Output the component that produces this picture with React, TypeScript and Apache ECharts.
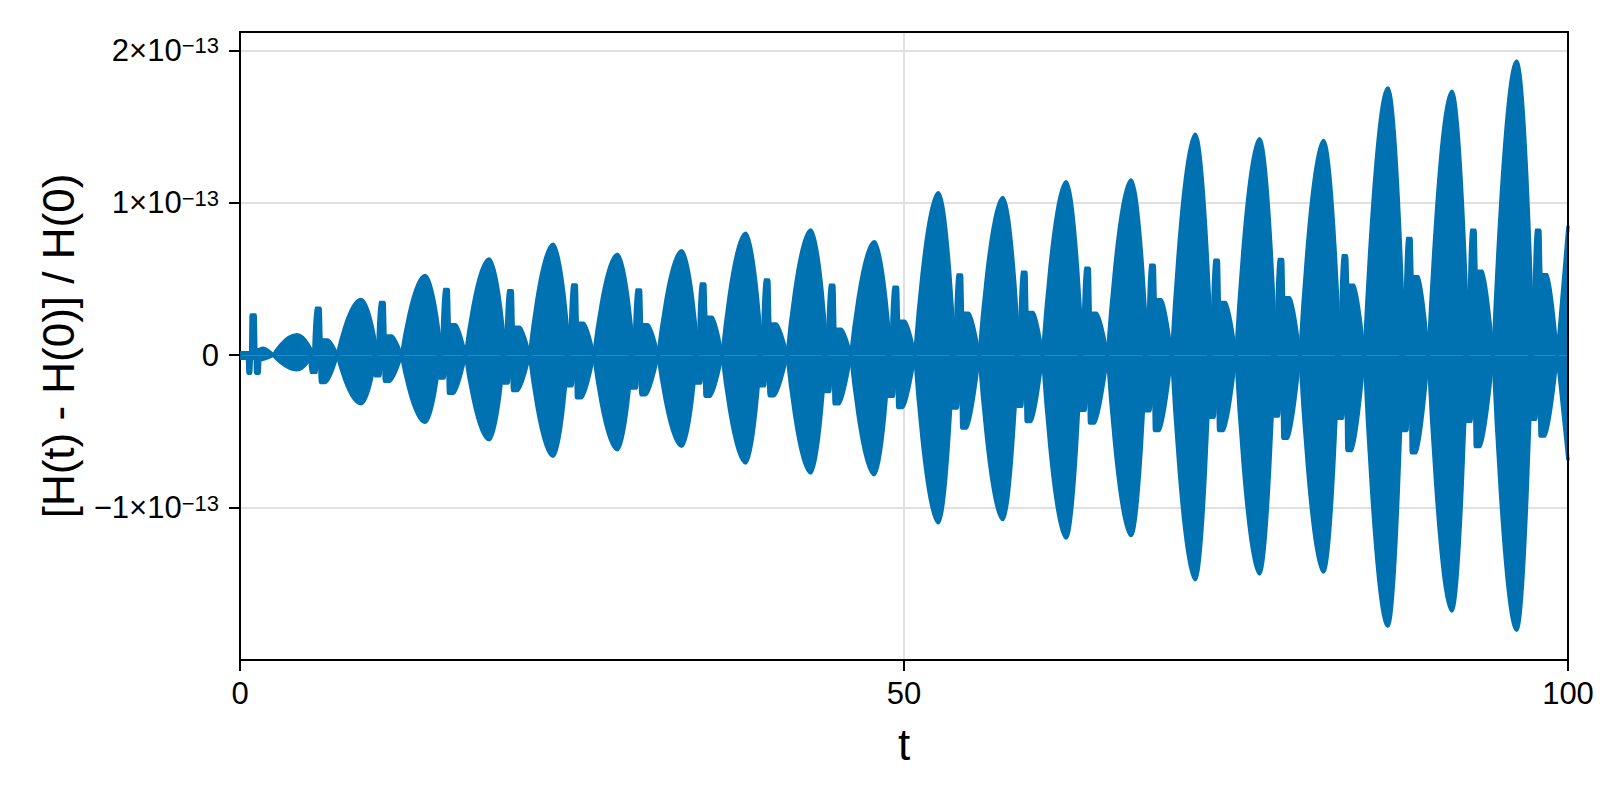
import React, { useEffect, useRef } from 'react';
import * as echarts from 'echarts';

const BLUE = '#0072b2';
const FONT = "'Liberation Sans', Arial, sans-serif";

// values are in units of 10^Y_EXP
const Y_EXP = -13;

// crest time of every big lobe and its top / bottom
const lobePeakT = [4.29, 9.11, 13.94, 18.76, 23.58, 28.42, 33.26, 38.08, 42.98, 47.77, 52.59, 57.44, 62.21, 67.1, 71.93, 76.77, 81.59, 86.44, 91.26, 96.14];
const lobeTop = [0.133, 0.365, 0.522, 0.631, 0.727, 0.662, 0.685, 0.799, 0.821, 0.744, 1.065, 1.035, 1.137, 1.149, 1.45, 1.42, 1.408, 1.752, 1.731, 1.93];
const lobeBottom = [-0.096, -0.319, -0.44, -0.555, -0.664, -0.62, -0.598, -0.707, -0.773, -0.784, -1.1, -1.079, -1.199, -1.184, -1.473, -1.435, -1.423, -1.779, -1.679, -1.805];

// the spike group that follows each lobe
const spikeUp = [0.308, 0.345, 0.43, 0.423, 0.46, 0.428, 0.467, 0.493, 0.458, 0.445, 0.526, 0.544, 0.57, 0.59, 0.622, 0.627, 0.652, 0.765, 0.82, 0.82];
const spikeDown1 = [-0.113, -0.135, -0.15, -0.183, -0.2, -0.215, -0.183, -0.2, -0.238, -0.27, -0.347, -0.336, -0.362, -0.364, -0.407, -0.4, -0.414, -0.494, -0.434, -0.42];
const spikeNotch = [-0.02, -0.03, -0.05, -0.07, -0.08, -0.09, -0.08, -0.09, -0.1, -0.12, -0.2, -0.18, -0.2, -0.22, -0.24, -0.24, -0.26, -0.3, -0.3, -0.3];
const spikeDown2 = [-0.179, -0.172, -0.25, -0.232, -0.28, -0.26, -0.27, -0.266, -0.319, -0.343, -0.478, -0.435, -0.445, -0.494, -0.494, -0.545, -0.625, -0.64, -0.6, -0.53];
const humpTop = [0.1, 0.126, 0.2, 0.183, 0.21, 0.2, 0.249, 0.205, 0.17, 0.222, 0.275, 0.279, 0.275, 0.364, 0.346, 0.376, 0.459, 0.514, 0.55, 0.527];

// durations (in t), counted from a lobe's crest
const LOBE_RISE = 1.78;
const LOBE_FALL_TOP = 1.25;
const LOBE_FALL_BOTTOM = 1.13;
const upSpikeT = [1.26, 1.4, 1.74, 1.82, 2.3]; // rise, top start, top end, hump start, hump end
const downSpikeT = [0.98, 1.04, 1.44, 1.5, 1.7, 1.76, 2.14]; // d1 start ... d2 end

// before the first lobe, and the lobe cut by the right edge
const startUpper: [number, number][] = [[0, 0.015], [0.8, 0.015], [0.84, 0.264], [1.14, 0.264], [1.2, 0.03], [1.75, 0.046], [2.51, 0]];
const startLower: [number, number][] = [[0, -0.02], [0.56, -0.02], [0.6, -0.118], [0.8, -0.118], [0.86, -0.02], [1.14, -0.02], [1.18, -0.118], [1.44, -0.118], [1.5, -0.03], [2.51, 0]];
const tailUpper: [number, number][] = [[99.19, 0], [100, 0.848]];
const tailLower: [number, number][] = [[99.19, 0], [100, -0.69]];

const xTicks = [0, 50, 100];
const yTicks = [-1, 0, 1, 2];

type Pt = [number, number | null];

// segments joined with an empty point so each one is drawn on its own
const joinSegments = (segs: Pt[][]): Pt[] =>
  segs.flatMap((s, i) => (i ? [[s[0][0], null] as Pt, ...s] : s));

const nodeAfter = (k: number) =>
  k + 1 < lobePeakT.length ? lobePeakT[k + 1] - LOBE_RISE : tailUpper[0][0];

const lobesUpper = joinSegments(
  lobePeakT.map((tp, k) => [[tp - LOBE_RISE, 0], [tp, lobeTop[k]], [tp + LOBE_FALL_TOP, 0]] as Pt[])
);
const lobesLower = joinSegments(
  lobePeakT.map((tp, k) => [[tp - LOBE_RISE, 0], [tp, lobeBottom[k]], [tp + LOBE_FALL_BOTTOM, 0]] as Pt[])
);
const spikesUpper = joinSegments([
  startUpper,
  ...lobePeakT.map((tp, k) => [
    [tp + upSpikeT[0], 0],
    [tp + upSpikeT[1], spikeUp[k]],
    [tp + upSpikeT[2], spikeUp[k]],
    [tp + upSpikeT[3], humpTop[k]],
    [tp + upSpikeT[4], humpTop[k]],
    [nodeAfter(k), 0],
  ] as Pt[]),
  tailUpper,
]);
const spikesLower = joinSegments([
  startLower,
  ...lobePeakT.map((tp, k) => [
    [tp + downSpikeT[0], 0],
    [tp + downSpikeT[1], spikeDown1[k]],
    [tp + downSpikeT[2], spikeDown1[k]],
    [tp + downSpikeT[3], spikeNotch[k]],
    [tp + downSpikeT[4], spikeNotch[k]],
    [tp + downSpikeT[5], spikeDown2[k]],
    [tp + downSpikeT[6], spikeDown2[k]],
    [nodeAfter(k), 0],
  ] as Pt[]),
  tailLower,
]);

const band = (name: string, data: Pt[], smooth: number) => ({
  name,
  type: 'line',
  data,
  smooth,
  smoothMonotone: 'x',
  symbol: 'none',
  showSymbol: false,
  silent: true,
  clip: true,
  lineStyle: { color: BLUE, width: 3.5 },
  areaStyle: { color: BLUE, opacity: 1, origin: 0 },
});

const axisLineStyle = { color: '#000', width: 2 };
const gridLineStyle = { color: '#e0e0e0', width: 2 };

const yLabel = (v: number) => {
  const m = Math.round(v);
  if (Math.abs(v - m) > 1e-6 || !yTicks.includes(m)) return '';
  if (m === 0) return '{m|0}';
  const sign = m < 0 ? '\u2212' : '';
  const exp = Y_EXP < 0 ? '\u2212' + Math.abs(Y_EXP) : String(Y_EXP);
  return `{m|${sign}${Math.abs(m)}\u00d710}{e|${exp}}`;
};

const App = () => {
  const chartRef = useRef<HTMLDivElement>(null);

  useEffect(() => {
    const chart = echarts.init(chartRef.current, null, { renderer: 'svg' });

    chart.setOption({
      animation: false,
      backgroundColor: '#fff',
      textStyle: { fontFamily: FONT, color: '#000' },
      grid: { left: 240, top: 32, right: 32, bottom: 140, containLabel: false },
      xAxis: [
        {
          type: 'value',
          min: xTicks[0],
          max: xTicks[xTicks.length - 1],
          interval: xTicks[1] - xTicks[0],
          name: 't',
          nameLocation: 'middle',
          nameGap: 62,
          nameTextStyle: { fontSize: 44, color: '#000', fontFamily: FONT },
          axisLine: { show: true, onZero: false, lineStyle: axisLineStyle },
          axisTick: { show: true, inside: false, length: 11, lineStyle: axisLineStyle },
          axisLabel: { fontSize: 31, color: '#000', margin: 18, fontFamily: FONT },
          splitLine: { show: true, lineStyle: gridLineStyle },
        },
        {
          type: 'value',
          position: 'top',
          min: 0,
          max: 100,
          z: 10,
          axisLine: { show: true, onZero: false, lineStyle: axisLineStyle },
          axisTick: { show: false },
          axisLabel: { show: false },
          splitLine: { show: false },
        },
      ],
      yAxis: [
        {
          type: 'value',
          min: -2,
          max: 2.12,
          interval: 1,
          name: '[H(t) - H(0)] / H(0)',
          nameLocation: 'middle',
          nameGap: 160,
          nameRotate: 90,
          nameTextStyle: { fontSize: 44, color: '#000', fontFamily: FONT },
          axisLine: { show: true, onZero: false, lineStyle: axisLineStyle },
          axisTick: { show: true, inside: false, length: 11, lineStyle: axisLineStyle, customValues: yTicks },
          axisLabel: {
            customValues: yTicks,
            margin: 21,
            formatter: yLabel,
            rich: {
              m: { fontSize: 31, color: '#000', fontFamily: FONT },
              e: { fontSize: 22, color: '#000', fontFamily: FONT, verticalAlign: 'top' },
            },
          },
          splitLine: { show: true, lineStyle: gridLineStyle },
        },
        {
          type: 'value',
          position: 'right',
          min: -2,
          max: 2.12,
          z: 10,
          axisLine: { show: true, onZero: false, lineStyle: axisLineStyle },
          axisTick: { show: false },
          axisLabel: { show: false },
          splitLine: { show: false },
        },
      ],
      series: [
        band('lobes upper', lobesUpper, 0.5),
        band('lobes lower', lobesLower, 0.5),
        band('spikes upper', spikesUpper, 0.3),
        band('spikes lower', spikesLower, 0.3),
      ],
    });

    return () => {
      chart.dispose();
    };
  }, []);

  return (
    <div
      ref={chartRef}
      style={{ position: 'absolute', left: 0, top: 0, width: 1600, height: 800, background: '#fff' }}
    ></div>
  );
};

export default App;
